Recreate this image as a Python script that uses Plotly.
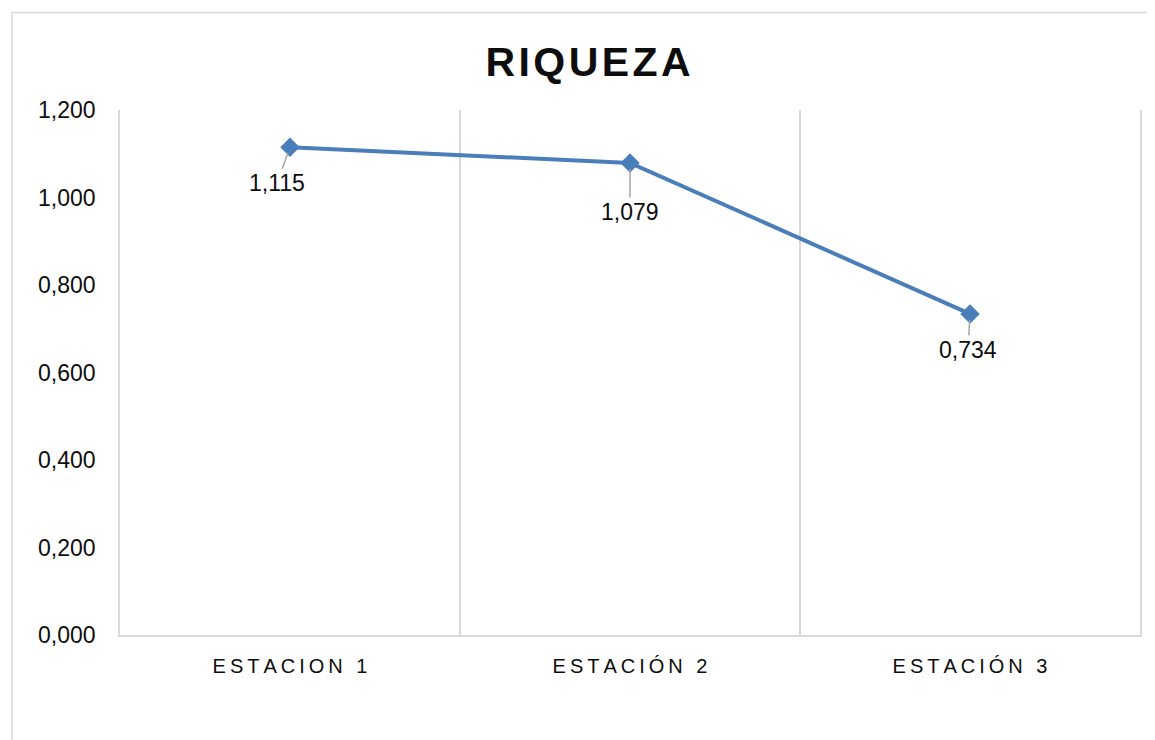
import plotly.graph_objects as go

categories = ["ESTACION 1", "ESTACIÓN 2", "ESTACIÓN 3"]
riqueza = [1.115, 1.079, 0.734]
y_ticks = [0, 0.2, 0.4, 0.6, 0.8, 1.0, 1.2]
title = "RIQUEZA"

# label offsets (px) relative to each point
label_dx = [-13, 0, -2]
label_dy = [36, 49, 36]

THIN = "\u2009"
HAIR = "\u200a"

# page has an 8px body margin, so the figure sits 8px in
L, R, T, B = 112, 23, 102, 113
PW = 1155 - L - R
PH = 740 - T - B


def spaced(txt, sep):
    return sep.join(list(txt))


fig = go.Figure()
fig.add_trace(go.Scatter(
    x=categories,
    y=riqueza,
    mode="lines+markers",
    line=dict(color="#4a7ebb", width=4),
    marker=dict(symbol="diamond", size=15, color="#4a7ebb"),
    showlegend=False,
    hoverinfo="skip",
))

for cat, val, dx, dy in zip(categories, riqueza, label_dx, label_dy):
    fig.add_annotation(
        x=cat, y=val, xref="x", yref="y",
        text=f"{val:.3f}".replace(".", ","),
        showarrow=True, arrowhead=0, arrowwidth=1.5, arrowcolor="#a6a6a6",
        ax=dx, ay=dy, standoff=6,
        font=dict(family="Liberation Sans, Arial", size=23, color="#0d0d0d"),
    )

fig.update_layout(
    width=1155, height=740,
    margin=dict(l=L, r=R, t=T, b=B),
    paper_bgcolor="white", plot_bgcolor="white",
    separators=",.",
    font=dict(family="Liberation Sans, Arial", color="#0d0d0d"),
    title=dict(
        text=spaced(title, HAIR),
        x=580 / 1155, xref="container", xanchor="center",
        y=1 - 54 / 740, yref="container", yanchor="middle",
        font=dict(size=41, weight="bold", color="#0d0d0d"),
    ),
    xaxis=dict(
        type="category",
        tickmode="array",
        tickvals=categories,
        ticktext=[spaced(c, THIN) for c in categories],
        tickson="boundaries",
        showgrid=True, gridcolor="#d9d9d9", gridwidth=1.5,
        showline=True, linecolor="#d9d9d9", linewidth=2,
        ticks="", range=[-0.5, 2.5],
        tickfont=dict(size=20, color="#0d0d0d"),
        ticklabelstandoff=12,
    ),
    yaxis=dict(
        range=[0, 1.2],
        tickvals=y_ticks,
        tickformat=".3f",
        showgrid=False, zeroline=False,
        showline=True, linecolor="#d9d9d9", linewidth=1.5, mirror=True,
        ticks="",
        tickfont=dict(size=23, color="#0d0d0d"),
        ticklabelstandoff=18,
    ),
    shapes=[dict(
        type="rect", xref="paper", yref="paper",
        x0=(4 - L) / PW, x1=1.1,
        y0=-0.4, y1=1 + (T - 4.5) / PH,
        line=dict(color="#d9d9d9", width=1.5),
        layer="below",
    )],
)

fig.write_html("out.html")
